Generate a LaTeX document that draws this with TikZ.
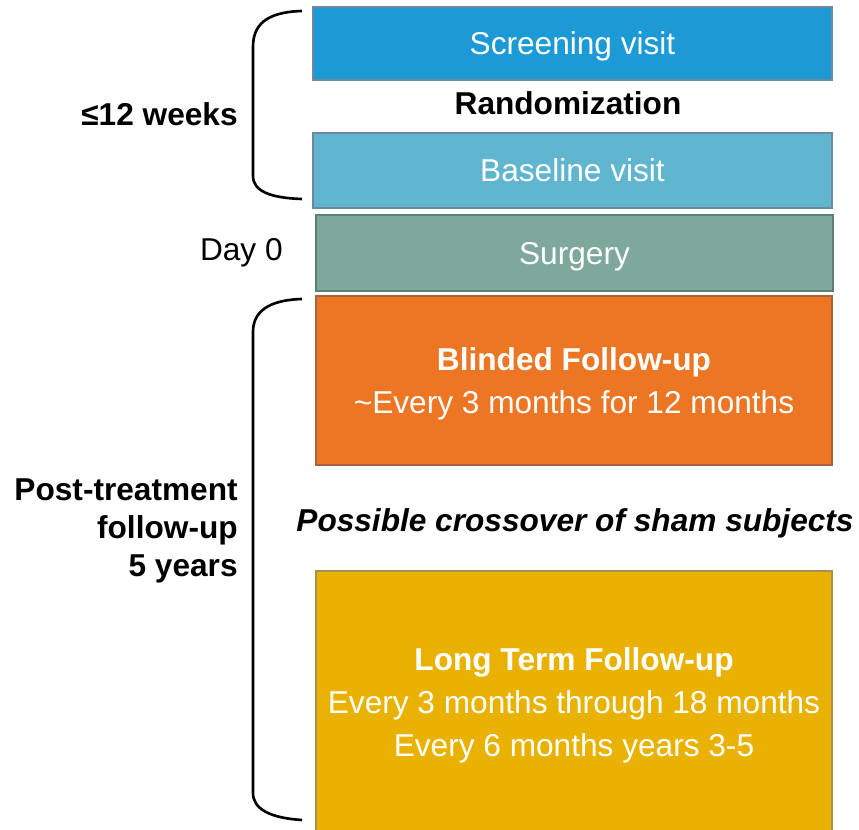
\documentclass[tikz,border=0pt]{standalone}
\usepackage{fontspec}
\setmainfont{Liberation Sans}
\definecolor{screenfill}{HTML}{1B9AD6}
\definecolor{screenline}{HTML}{6E88A0}
\definecolor{basefill}{HTML}{61B6CF}
\definecolor{baseline}{HTML}{6E88A0}
\definecolor{surgfill}{HTML}{7DA89B}
\definecolor{surgline}{HTML}{5E8074}
\definecolor{blindfill}{HTML}{ED7625}
\definecolor{blindline}{HTML}{A7623A}
\definecolor{longfill}{HTML}{E9B200}
\definecolor{longline}{HTML}{A89050}
\begin{document}
\begin{tikzpicture}
[x=0.02cm,y=-0.02cm,
  boxdecorate/.style={shape=rectangle,draw,line width=1.2pt,text=white,inner sep=0pt,
    text depth=0pt,align=center,font=\fontsize{18}{24.5}\selectfont},
  labeldecorate/.style={font=\fontsize{18}{21.5}\selectfont\bfseries,align=right,inner sep=0pt},
  bracketdecorate/.style={line width=1.5pt}]
\useasboundingbox (0,0) rectangle (859,830);
%% boxes of the study phases
\foreach \nodename/\x/\y/\w/\h/\filling/\border/\content in {
  screen/572.5/43.5/519/73/screenfill/screenline/{Screening visit},
  base/572.5/170.5/519/75/basefill/baseline/{Baseline visit},
  surg/574.5/253/517/76/surgfill/surgline/{Surgery},
  blind/574/380.5/516/169/blindfill/blindline/{\textbf{Blinded Follow-up}\\{\textasciitilde}Every 3 months for 12 months},
  long/574/702/516/262/longfill/longline/{\textbf{Long Term Follow-up}\\Every 3 months through 18 months\\Every 6 months years 3-5}} {
  \node (\nodename) at (\x,\y) [boxdecorate,fill=\filling,draw=\border,
    minimum width=\w*0.02cm,minimum height=\h*0.02cm] {\content};
}
%% texts between and beside the boxes
\node (random) at (568,103) [labeldecorate] {Randomization};
\node (crossover) at (575,523) [labeldecorate,font=\fontsize{18}{21.5}\selectfont\bfseries\itshape] {Possible crossover of sham subjects};
\node (weeks) at (238,114) [labeldecorate,anchor=east] {≤12 weeks};
\node (day) at (283,253) [labeldecorate,anchor=east,font=\fontsize{18}{21.5}\selectfont] {Day 0};
\node (post) at (238,531) [labeldecorate,anchor=east] {Post-treatment\\follow-up\\5 years};
%% brackets
\draw[bracketdecorate] (302,11) .. controls (266,12) and (253,25) .. (253,47)
  -- (253,176) .. controls (253,191) and (270,198) .. (302,199);
\draw[bracketdecorate] (302,299) .. controls (268,300) and (253,312) .. (253,332)
  -- (253,793) .. controls (253,809) and (270,818) .. (302,820);
\end{tikzpicture}
\end{document}
